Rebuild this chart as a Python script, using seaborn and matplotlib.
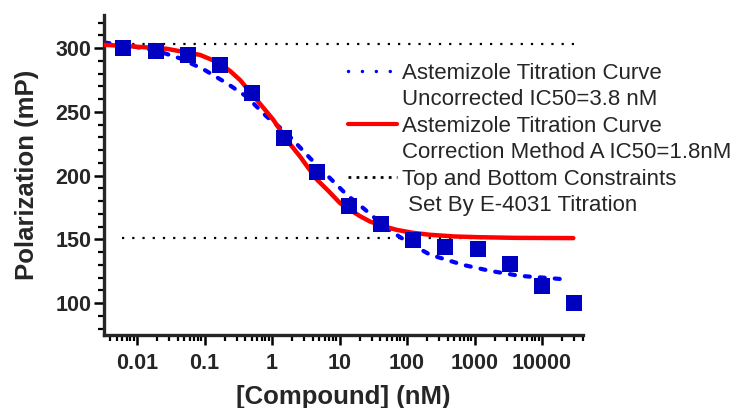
import numpy as np
import pandas as pd
import seaborn as sns
import matplotlib
matplotlib.use("Agg")
import matplotlib.pyplot as plt
from matplotlib.lines import Line2D
from matplotlib.ticker import LogLocator, MultipleLocator, FixedLocator, FixedFormatter

# measured points (squares)
conc = [0.0063, 0.0188, 0.0565, 0.17, 0.51, 1.52, 4.6, 13.7, 41, 123, 370, 1110, 3330, 10000, 30000]
polar = [300.5, 298, 294.7, 287, 264.7, 229.4, 203.2, 175.8, 162, 149.7, 144.4, 142.3, 130.8, 113.8, 100]

# fitted curves
red_x = [0.0033, 0.0088, 0.0275, 0.0858, 0.12, 0.17, 0.24, 0.336, 0.593, 1.045, 1.65, 2.6,
         4.6, 7, 10.2, 14.3, 20, 28.3, 45, 70, 120, 219, 500, 1200, 4000, 29100]
red_y = [302.6, 301.3, 299.5, 294.7, 291.5, 288, 282, 275, 259.5, 243.8, 228, 215,
         197, 187.5, 178.4, 173.2, 168.3, 164, 160.3, 157.5, 155.2, 153.6, 152.3, 151.7, 151.2, 151]

blue_x = [0.0033, 0.0088, 0.0195, 0.0434, 0.096, 0.213, 0.42, 0.83, 1.65, 3.66, 8.1,
          12.8, 22.5, 50, 99, 219, 676, 1700, 4680, 13200, 23400]
blue_y = [304.4, 301.3, 298, 292, 283.5, 272.5, 262, 246.4, 233.3, 213.7, 195.4,
          185, 174.5, 158.8, 148.3, 138, 130, 125.3, 121.4, 119.6, 118.5]

# top / bottom constraints
constraints = [303, 151]
constraint_span = [0.006, 30000]

labels = ["Astemizole Titration Curve", "Uncorrected IC50=3.8 nM",
          "Astemizole Titration Curve", "Correction Method A IC50=1.8nM",
          "Top and Bottom Constraints", " Set By E-4031 Titration"]

x_ticks = [0.01, 0.1, 1, 10, 100, 1000, 10000]
x_ticklabels = ["0.01", "0.1", "1", "10", "100", "1000", "10000"]

sns.set_style("ticks")
plt.rcParams['font.family'] = ['Liberation Sans', 'DejaVu Sans']

fig = plt.figure(figsize=(7.4, 4.08), dpi=100)
ax = fig.add_axes([104/740, 1-335/408, (583-104)/740, (335-15)/408])

pts = pd.DataFrame({"x": conc, "y": polar})
red = pd.DataFrame({"x": red_x, "y": red_y})
blue = pd.DataFrame({"x": blue_x, "y": blue_y})

ax.set_xscale("log")

for yv in constraints:
    ax.hlines(yv, constraint_span[0], constraint_span[1], color="black",
              lw=1.6, linestyle=(0, (1, 3.6)), zorder=1)

sns.lineplot(data=blue, x="x", y="y", ax=ax, color="#0000FF", lw=3, zorder=2)
bl = ax.lines[-1]
bl.set_linestyle((0, (1.2, 2.4)))
bl.set_dash_capstyle("round")

sns.lineplot(data=red, x="x", y="y", ax=ax, color="#FF0000", lw=3.2, zorder=3)

sns.scatterplot(data=pts, x="x", y="y", ax=ax, marker="s", s=130,
                color="#0000C0", linewidth=0, zorder=4)

ax.set_xlim(0.00324, 40500)
ax.set_ylim(75, 326)

ax.xaxis.set_major_locator(FixedLocator(x_ticks))
ax.xaxis.set_major_formatter(FixedFormatter(x_ticklabels))
ax.xaxis.set_minor_locator(LogLocator(base=10, subs=np.arange(2, 10), numticks=20))
ax.yaxis.set_major_locator(MultipleLocator(50))
ax.yaxis.set_minor_locator(MultipleLocator(10))

for s in ["top", "right"]:
    ax.spines[s].set_visible(False)
for s in ["left", "bottom"]:
    ax.spines[s].set_linewidth(2.4)

ax.tick_params(which="major", length=7, width=1.8, pad=2, labelsize=15.5, color="black")
ax.tick_params(which="minor", length=4, width=1.6, color="black")
ax.tick_params(axis="x", which="major", pad=6)
for lab in ax.get_xticklabels() + ax.get_yticklabels():
    lab.set_fontweight("bold")

ax.set_xlabel("[Compound] (nM)", fontsize=18.5, fontweight="bold", labelpad=8)
ax.set_ylabel("Polarization (mP)", fontsize=18.5, fontweight="bold", labelpad=12)

blank = Line2D([], [], color="none")
handles = [
    Line2D([], [], color="#0000FF", lw=2.5, linestyle=(0, (0.01, 4)), dash_capstyle="round"),
    blank,
    Line2D([], [], color="#FF0000", lw=3),
    blank,
    Line2D([], [], color="black", lw=2, linestyle=(0, (1, 1.9))),
    blank,
]
ax.legend(handles, labels, loc="upper left", bbox_to_anchor=(348/740, 1-63/408),
          bbox_transform=fig.transFigure, frameon=False, fontsize=16,
          borderpad=0, borderaxespad=0, handlelength=2.2, handletextpad=0.25,
          labelspacing=0.245)

fig.savefig("out.png", dpi=100)
